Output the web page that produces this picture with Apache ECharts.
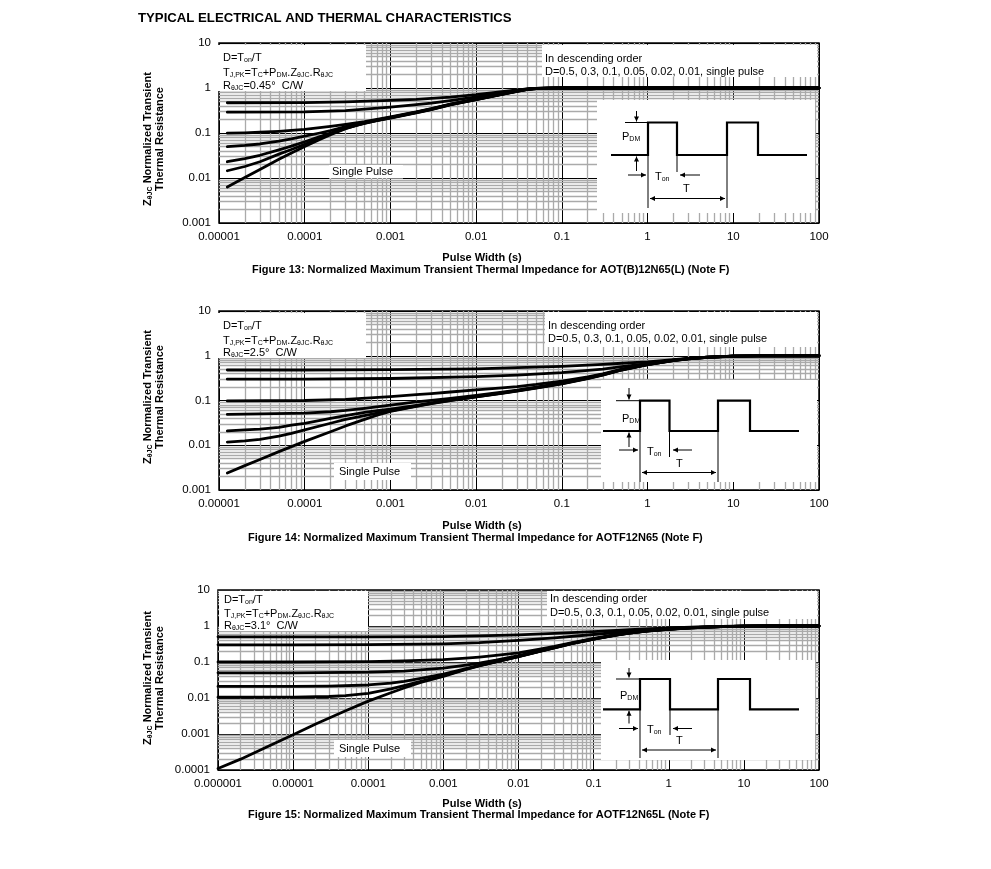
<!DOCTYPE html>
<html><head><meta charset="utf-8">
<script src="https://cdn.jsdelivr.net/npm/echarts@6/dist/echarts.min.js"></script>
<style>html,body{margin:0;padding:0;background:#fff}#c{width:991px;height:869px}</style>
</head><body><div id="c"></div>
<script>
const FONT = '"Liberation Sans", Arial, sans-serif';

// ---------- tick labels ----------
const xTicks13 = ['0.00001','0.0001','0.001','0.01','0.1','1','10','100'];
const yTicks13 = ['0.001','0.01','0.1','1','10'];
const xTicks14 = ['0.00001','0.0001','0.001','0.01','0.1','1','10','100'];
const yTicks14 = ['0.001','0.01','0.1','1','10'];
const xTicks15 = ['0.000001','0.00001','0.0001','0.001','0.01','0.1','1','10','100'];
const yTicks15 = ['0.0001','0.001','0.01','0.1','1','10'];

// ---------- Figure 13 curves [pulse width (s), Z normalized] ----------
const f13_d05 = [[1.25e-5,0.47],[1e-4,0.475],[3e-4,0.49],[1e-3,0.53],[2e-3,0.56],[3e-3,0.59],[5e-3,0.63],[1e-2,0.71],[2e-2,0.83],[3e-2,0.91],[4e-2,0.96],[5e-2,0.985],[7e-2,0.998],[1e-1,1],[100,1]];
const f13_d03 = [[1.25e-5,0.29],[1e-4,0.295],[3e-4,0.315],[1e-3,0.375],[2e-3,0.425],[3e-3,0.46],[5e-3,0.525],[1e-2,0.635],[2e-2,0.785],[3e-2,0.88],[4e-2,0.95],[5e-2,0.98],[7e-2,0.997],[1e-1,1],[100,1]];
const f13_d01 = [[1.25e-5,0.099],[2e-5,0.101],[3e-5,0.104],[5e-5,0.109],[7e-5,0.114],[1e-4,0.12],[2e-4,0.14],[3e-4,0.155],[5e-4,0.18],[1e-3,0.228],[2e-3,0.295],[3e-3,0.35],[5e-3,0.44],[1e-2,0.57],[2e-2,0.74],[3e-2,0.86],[4e-2,0.94],[5e-2,0.98],[7e-2,0.997],[1e-1,1],[100,1]];
const f13_d005 = [[1.25e-5,0.05],[2e-5,0.053],[3e-5,0.057],[5e-5,0.066],[7e-5,0.074],[1e-4,0.085],[1.5e-4,0.1],[2e-4,0.113],[3e-4,0.138],[5e-4,0.173],[1e-3,0.223],[2e-3,0.29],[3e-3,0.343],[5e-3,0.435],[1e-2,0.565],[2e-2,0.735],[3e-2,0.855],[4e-2,0.94],[5e-2,0.978],[7e-2,0.997],[1e-1,1],[100,1]];
const f13_d002 = [[1.25e-5,0.023],[2e-5,0.027],[3e-5,0.032],[5e-5,0.042],[7e-5,0.051],[1e-4,0.064],[1.5e-4,0.083],[2e-4,0.1],[3e-4,0.13],[5e-4,0.168],[1e-3,0.219],[2e-3,0.286],[3e-3,0.338],[5e-3,0.43],[1e-2,0.56],[2e-2,0.73],[3e-2,0.85],[4e-2,0.935],[5e-2,0.975],[7e-2,0.996],[1e-1,1],[100,1]];
const f13_d001 = [[1.25e-5,0.0145],[2e-5,0.018],[3e-5,0.023],[5e-5,0.034],[7e-5,0.043],[1e-4,0.056],[1.5e-4,0.077],[2e-4,0.095],[3e-4,0.127],[5e-4,0.166],[1e-3,0.217],[2e-3,0.283],[3e-3,0.335],[5e-3,0.425],[1e-2,0.555],[2e-2,0.725],[3e-2,0.845],[4e-2,0.932],[5e-2,0.972],[7e-2,0.995],[1e-1,1],[100,1]];
const f13_single = [[1.25e-5,0.0063],[2e-5,0.0103],[3e-5,0.0155],[5e-5,0.026],[7e-5,0.036],[1e-4,0.05],[1.5e-4,0.072],[2e-4,0.092],[3e-4,0.125],[4e-4,0.148],[5e-4,0.164],[7e-4,0.19],[1e-3,0.215],[2e-3,0.28],[3e-3,0.332],[5e-3,0.42],[1e-2,0.55],[2e-2,0.72],[3e-2,0.84],[4e-2,0.93],[5e-2,0.97],[7e-2,0.995],[1e-1,1],[100,1]];

// ---------- Figure 14 curves ----------
const f14_d05 = [[1.25e-5,0.48],[1e-4,0.48],[1e-3,0.49],[1e-2,0.51],[3e-2,0.54],[1e-1,0.58],[3e-1,0.64],[5e-1,0.68],[1,0.73],[2,0.82],[3,0.875],[5,0.935],[10,0.982],[20,0.998],[30,1],[100,1]];
const f14_d03 = [[1.25e-5,0.3],[1e-4,0.3],[1e-3,0.31],[1e-2,0.34],[3e-2,0.37],[1e-1,0.42],[3e-1,0.5],[5e-1,0.57],[1,0.67],[2,0.8],[3,0.865],[5,0.93],[10,0.98],[20,0.998],[30,1],[100,1]];
const f14_d01 = [[1.25e-5,0.098],[1e-4,0.1],[3e-4,0.106],[1e-3,0.122],[2e-3,0.135],[3e-3,0.143],[5e-3,0.155],[1e-2,0.172],[2e-2,0.192],[3e-2,0.205],[5e-2,0.228],[1e-1,0.272],[2e-1,0.338],[3e-1,0.395],[5e-1,0.5],[1,0.65],[2,0.795],[3,0.862],[5,0.93],[10,0.98],[20,0.998],[30,1],[100,1]];
const f14_d005 = [[1.25e-5,0.049],[3e-5,0.05],[1e-4,0.052],[2e-4,0.056],[3e-4,0.06],[5e-4,0.067],[1e-3,0.079],[2e-3,0.093],[3e-3,0.101],[5e-3,0.112],[1e-2,0.13],[2e-2,0.154],[3e-2,0.171],[5e-2,0.2],[1e-1,0.248],[2e-1,0.323],[3e-1,0.383],[5e-1,0.492],[1,0.642],[2,0.79],[3,0.858],[5,0.926],[10,0.978],[20,0.998],[30,1],[100,1]];
const f14_d002 = [[1.25e-5,0.021],[2e-5,0.022],[3e-5,0.023],[5e-5,0.025],[7e-5,0.028],[1e-4,0.031],[2e-4,0.04],[3e-4,0.046],[5e-4,0.054],[7e-4,0.059],[1e-3,0.064],[2e-3,0.078],[3e-3,0.088],[5e-3,0.103],[1e-2,0.123],[2e-2,0.148],[3e-2,0.166],[5e-2,0.195],[1e-1,0.242],[2e-1,0.317],[3e-1,0.377],[5e-1,0.487],[1,0.637],[2,0.785],[3,0.855],[5,0.924],[10,0.977],[20,0.998],[30,1],[100,1]];
const f14_d001 = [[1.25e-5,0.0118],[2e-5,0.0125],[3e-5,0.0135],[5e-5,0.016],[7e-5,0.0185],[1e-4,0.022],[2e-4,0.031],[3e-4,0.038],[5e-4,0.046],[7e-4,0.052],[1e-3,0.059],[2e-3,0.075],[3e-3,0.086],[5e-3,0.101],[1e-2,0.121],[2e-2,0.146],[3e-2,0.164],[5e-2,0.192],[1e-1,0.238],[2e-1,0.313],[3e-1,0.373],[5e-1,0.483],[1,0.633],[2,0.782],[3,0.852],[5,0.922],[10,0.976],[20,0.998],[30,1],[100,1]];
const f14_single = [[1.25e-5,0.0024],[2e-5,0.0035],[3e-5,0.0048],[5e-5,0.0072],[7e-5,0.0093],[1e-4,0.0122],[2e-4,0.02],[3e-4,0.027],[5e-4,0.038],[7e-4,0.047],[1e-3,0.057],[2e-3,0.074],[3e-3,0.085],[5e-3,0.1],[1e-2,0.12],[2e-2,0.145],[3e-2,0.163],[5e-2,0.19],[1e-1,0.235],[2e-1,0.31],[3e-1,0.37],[5e-1,0.48],[1,0.63],[2,0.78],[3,0.85],[5,0.92],[10,0.975],[20,0.998],[30,1],[100,1]];

// ---------- Figure 15 curves ----------
const f15_d05 = [[1e-6,0.5],[1e-4,0.5],[1e-3,0.51],[3e-3,0.53],[1e-2,0.57],[3e-2,0.62],[1e-1,0.7],[2e-1,0.75],[3e-1,0.79],[5e-1,0.83],[1,0.88],[2,0.93],[3,0.95],[5,0.975],[10,0.993],[20,1],[100,1]];
const f15_d03 = [[1e-6,0.3],[1e-5,0.3],[1e-4,0.302],[1e-3,0.32],[3e-3,0.345],[1e-2,0.4],[3e-2,0.47],[1e-1,0.58],[2e-1,0.66],[3e-1,0.71],[5e-1,0.78],[1,0.86],[2,0.92],[3,0.945],[5,0.972],[10,0.992],[20,1],[100,1]];
const f15_d01 = [[1e-6,0.1],[1e-5,0.1],[1e-4,0.103],[3e-4,0.107],[1e-3,0.117],[2e-3,0.128],[3e-3,0.137],[5e-3,0.152],[1e-2,0.18],[2e-2,0.23],[3e-2,0.27],[5e-2,0.34],[1e-1,0.45],[2e-1,0.58],[3e-1,0.65],[5e-1,0.735],[1,0.825],[2,0.9],[3,0.93],[5,0.965],[10,0.99],[20,1],[100,1]];
const f15_d005 = [[1e-6,0.05],[1e-5,0.05],[1e-4,0.052],[3e-4,0.056],[1e-3,0.068],[2e-3,0.082],[3e-3,0.093],[5e-3,0.112],[1e-2,0.15],[2e-2,0.21],[3e-2,0.255],[5e-2,0.33],[1e-1,0.44],[2e-1,0.57],[3e-1,0.64],[5e-1,0.73],[1,0.82],[2,0.895],[3,0.925],[5,0.963],[10,0.99],[20,1],[100,1]];
const f15_d002 = [[1e-6,0.021],[1e-5,0.021],[3e-5,0.0215],[1e-4,0.023],[2e-4,0.026],[3e-4,0.029],[5e-4,0.035],[1e-3,0.046],[2e-3,0.066],[3e-3,0.081],[5e-3,0.103],[1e-2,0.143],[2e-2,0.204],[3e-2,0.25],[5e-2,0.325],[1e-1,0.435],[2e-1,0.565],[3e-1,0.635],[5e-1,0.725],[1,0.815],[2,0.893],[3,0.923],[5,0.962],[10,0.99],[20,1],[100,1]];
const f15_d001 = [[1e-6,0.0105],[1e-5,0.0106],[3e-5,0.011],[5e-5,0.0117],[1e-4,0.0135],[2e-4,0.018],[3e-4,0.022],[5e-4,0.029],[1e-3,0.042],[2e-3,0.063],[3e-3,0.079],[5e-3,0.101],[1e-2,0.141],[2e-2,0.202],[3e-2,0.247],[5e-2,0.322],[1e-1,0.432],[2e-1,0.562],[3e-1,0.632],[5e-1,0.722],[1,0.812],[2,0.891],[3,0.921],[5,0.961],[10,0.99],[20,1],[100,1]];
const f15_single = [[1e-6,0.00011],[2e-6,0.0002],[5e-6,0.00049],[1e-5,0.00095],[2e-5,0.0019],[5e-5,0.0044],[1e-4,0.0082],[2e-4,0.014],[3e-4,0.019],[5e-4,0.027],[1e-3,0.04],[2e-3,0.062],[3e-3,0.078],[5e-3,0.1],[1e-2,0.14],[2e-2,0.2],[3e-2,0.245],[5e-2,0.32],[1e-1,0.43],[2e-1,0.56],[3e-1,0.63],[5e-1,0.72],[1,0.81],[2,0.89],[3,0.92],[5,0.96],[10,0.99],[20,1],[100,1]];

const charts = [
  { grid:{left:219, top:43, width:600, height:180}, xMin:-5, xMax:2, yMin:-3, yMax:1, xT:xTicks13, yT:yTicks13,
    curves:[f13_d05,f13_d03,f13_d01,f13_d005,f13_d002,f13_d001,f13_single] },
  { grid:{left:219, top:311, width:600, height:179}, xMin:-5, xMax:2, yMin:-3, yMax:1, xT:xTicks14, yT:yTicks14,
    curves:[f14_d05,f14_d03,f14_d01,f14_d005,f14_d002,f14_d001,f14_single] },
  { grid:{left:218, top:590, width:601, height:180}, xMin:-6, xMax:2, yMin:-4, yMax:1, xT:xTicks15, yT:yTicks15,
    curves:[f15_d05,f15_d03,f15_d01,f15_d005,f15_d002,f15_d001,f15_single] }
];

function minorVals(e0, e1) {
  const out = [];
  for (let e = e0; e < e1; e++) for (let k = 2; k <= 9; k++) out.push(+(k * Math.pow(10, e)).toPrecision(3));
  return out;
}

const grids = [], xAxes = [], yAxes = [], series = [];
charts.forEach((c, i) => {
  grids.push(Object.assign({show:true, borderColor:'#000', borderWidth:1.5, backgroundColor:'#fff', containLabel:false}, c.grid));
  const axBase = (lo, hi, labels) => ({
    type:'log', logBase:10, gridIndex:i, min:Math.pow(10, lo), max:Math.pow(10, hi),
    axisLine:{show:false}, axisTick:{show:false},
    axisLabel:{color:'#000', fontSize:11.5, fontFamily:FONT, margin:8,
      formatter: v => labels[Math.round(Math.log10(v)) - lo] || ''},
    splitLine:{show:true, lineStyle:{color:'#000', width:1}}
  });
  xAxes.push(axBase(c.xMin, c.xMax, c.xT));
  yAxes.push(axBase(c.yMin, c.yMax, c.yT));
  const xlo = Math.pow(10, c.xMin), xhi = Math.pow(10, c.xMax), ylo = Math.pow(10, c.yMin), yhi = Math.pow(10, c.yMax);
  const gl = minorVals(c.xMin, c.xMax).map(v => ({coords:[[v, ylo],[v, yhi]]}))
    .concat(minorVals(c.yMin, c.yMax).map(v => ({coords:[[xlo, v],[xhi, v]]})));
  series.push({
    type:'lines', coordinateSystem:'cartesian2d', xAxisIndex:i, yAxisIndex:i, polyline:false,
    silent:true, z:1, animation:false, symbol:['none','none'],
    lineStyle:{color:'#aaaaaa', width:1.3, opacity:1, curveness:0},
    data:gl
  });
  c.curves.forEach(d => series.push({
    type:'line', xAxisIndex:i, yAxisIndex:i, data:d, symbol:'none', showSymbol:false,
    smooth:false, z:10, silent:true,
    lineStyle:{color:'#000', width:2.8, join:'round', cap:'round'}
  }));
});

// ---------- annotations ----------
const G = [];
const richN = {
  n:{fontSize:11, fontFamily:FONT, fill:'#000'},
  s:{fontSize:7, fontFamily:FONT, fill:'#000', padding:[5,0,0,0]}
};
function text(x, y, t, o) {
  o = o || {};
  G.push({type:'text', x, y, z:60, silent:true, rotation:o.rot || 0,
    style:{text:t, fill:'#000', fontSize:o.size || 11, fontFamily:FONT, fontWeight:o.bold ? 'bold' : 'normal',
      align:o.align || 'left', verticalAlign:'middle', rich:o.rich || richN, lineHeight:o.lh}});
}
function rect(x1, y1, x2, y2) {
  G.push({type:'rect', z:50, silent:true, shape:{x:x1, y:y1, width:x2 - x1, height:y2 - y1}, style:{fill:'#fff'}});
}
function line(x1, y1, x2, y2, w) {
  G.push({type:'line', z:60, silent:true, shape:{x1, y1, x2, y2}, style:{stroke:'#000', lineWidth:w || 1}});
}
function head(x, y, dx, dy) {
  const L = 5, W = 2.5;
  const px = -dy, py = dx;
  G.push({type:'polygon', z:61, silent:true, shape:{points:[[x, y],
    [x - dx * L + px * W, y - dy * L + py * W], [x - dx * L - px * W, y - dy * L - py * W]]}, style:{fill:'#000'}});
}
function arrow(x1, y1, x2, y2) {
  line(x1, y1, x2, y2, 1);
  const len = Math.hypot(x2 - x1, y2 - y1);
  head(x2, y2, (x2 - x1) / len, (y2 - y1) / len);
}

// title
text(138, 18.5, 'TYPICAL ELECTRICAL AND THERMAL CHARACTERISTICS', {size:13.2, bold:true, rich:{}});

const boxes = [
  { left:[218,45,366,91], lt:[[223,57.5],[223,73],[223,85.5]], r:'0.45',
    right:[542,45,817,77], rt:[[545,59],[545,72]],
    sp:[329,165,403,178.5], spt:[332,171.5],
    pw:[482,257.5], cap:[252,269.5,'Figure 13: Normalized Maximum Transient Thermal Impedance for AOT(B)12N65(L) (Note F)'],
    yt:[154,139] },
  { left:[218,313,366,358], lt:[[223,325.5],[223,341],[223,352.5]], r:'2.5',
    right:[545,312,817,347], rt:[[548,326],[548,338.5]],
    sp:[334,463,411,480], spt:[339,471.5],
    pw:[482,526], cap:[248,537.5,'Figure 14: Normalized Maximum Transient Thermal Impedance for AOTF12N65 (Note F)'],
    yt:[154,397] },
  { left:[219,591,368,631], lt:[[224,600],[224,614],[224,626]], r:'3.1',
    right:[547,591,817,619], rt:[[550,598.5],[550,612.5]],
    sp:[334,740,411,757], spt:[339,748.5],
    pw:[482,803.5], cap:[248,815,'Figure 15: Normalized Maximum Transient Thermal Impedance for AOTF12N65L (Note F)'],
    yt:[154,678] }
];
boxes.forEach(b => {
  rect(...b.left);
  text(b.lt[0][0], b.lt[0][1], '{n|D=T}{s|on}{n|/T}');
  text(b.lt[1][0], b.lt[1][1], '{n|T}{s|J,PK}{n|=T}{s|C}{n|+P}{s|DM}{n|.Z}{s|θJC}{n|.R}{s|θJC}');
  text(b.lt[2][0], b.lt[2][1], '{n|R}{s|θJC}{n|=' + b.r + '°  C/W}');
  rect(...b.right);
  text(b.rt[0][0], b.rt[0][1], 'In descending order');
  text(b.rt[1][0], b.rt[1][1], 'D=0.5, 0.3, 0.1, 0.05, 0.02, 0.01, single pulse');
  rect(...b.sp);
  text(b.spt[0], b.spt[1], 'Single Pulse');
  text(b.pw[0], b.pw[1], 'Pulse Width (s)', {bold:true, align:'center', rich:{}});
  text(b.cap[0], b.cap[1], b.cap[2], {bold:true, rich:{}});
  text(b.yt[0], b.yt[1], '{b|Z}{bs|θJC}{b| Normalized Transient}\n{b|Thermal Resistance}',
    {rot:Math.PI / 2, align:'center', lh:12, rich:{
      b:{fontSize:11, fontWeight:'bold', fontFamily:FONT, fill:'#000', lineHeight:12},
      bs:{fontSize:7, fontWeight:'bold', fontFamily:FONT, fill:'#000', padding:[5,0,0,0], lineHeight:12}}});
});

// pulse insets
const insets = [
  { bg:[597,100,815,213], w:{x0:611, r1:648, f1:677, r2:727, f2:758, xe:807, lo:155, hi:122.5},
    down:[636.5,111,121.5], ref:[625,648], pdm:[622,137], up:[636.5,171,156.5],
    ra:[175,628,646], ton:[655,177], la:[175,700,680], vl:[[648,155,208],[677,155,172],[727,155,208]],
    T:[683,188.5], dbl:[198.5,650,725] },
  { bg:[601,380,817,482], w:{x0:603, r1:640, f1:669.5, r2:718, f2:750, xe:799, lo:431, hi:400.7},
    down:[629,388,399.5], ref:[616,640], pdm:[622,418.5], up:[629,447,432.5],
    ra:[450,619,638], ton:[647,452], la:[450,692,673], vl:[[640,431,482],[669.5,431,457],[718,431,482]],
    T:[676,463.5], dbl:[472.5,642,716] },
  { bg:[601,660,815,760], w:{x0:603, r1:640, f1:670, r2:718, f2:750, xe:799, lo:709.3, hi:679},
    down:[629,668,677.5], ref:[616,640], pdm:[620,695.5], up:[629,723.5,710.8],
    ra:[728.5,619,638], ton:[647,730], la:[728.5,692,673], vl:[[640,709,758],[670,709,735],[718,709,758]],
    T:[676,740.5], dbl:[750,642,716] }
];
insets.forEach(p => {
  rect(...p.bg);
  const w = p.w;
  G.push({type:'polyline', z:62, silent:true, shape:{points:[
    [w.x0,w.lo],[w.r1,w.lo],[w.r1,w.hi],[w.f1,w.hi],[w.f1,w.lo],[w.r2,w.lo],[w.r2,w.hi],[w.f2,w.hi],[w.f2,w.lo],[w.xe,w.lo]]},
    style:{stroke:'#000', lineWidth:2.2, fill:null, lineJoin:'miter'}});
  arrow(p.down[0], p.down[1], p.down[0], p.down[2]);
  line(p.ref[0], w.hi, p.ref[1], w.hi, 1);
  text(p.pdm[0], p.pdm[1], '{n|P}{s|DM}');
  arrow(p.up[0], p.up[1], p.up[0], p.up[2]);
  arrow(p.ra[1], p.ra[0], p.ra[2], p.ra[0]);
  text(p.ton[0], p.ton[1], '{n|T}{s|on}');
  arrow(p.la[1], p.la[0], p.la[2], p.la[0]);
  p.vl.forEach(v => line(v[0], v[1], v[0], v[2], 1));
  text(p.T[0], p.T[1], 'T');
  line(p.dbl[1], p.dbl[0], p.dbl[2], p.dbl[0], 1);
  head(p.dbl[1], p.dbl[0], -1, 0);
  head(p.dbl[2], p.dbl[0], 1, 0);
});

const chart = echarts.init(document.getElementById('c'), null, {renderer:'canvas'});
chart.setOption({
  backgroundColor:'#fff',
  animation:false,
  grid:grids, xAxis:xAxes, yAxis:yAxes, series:series,
  graphic:{elements:G}
});
</script>
</body></html>
